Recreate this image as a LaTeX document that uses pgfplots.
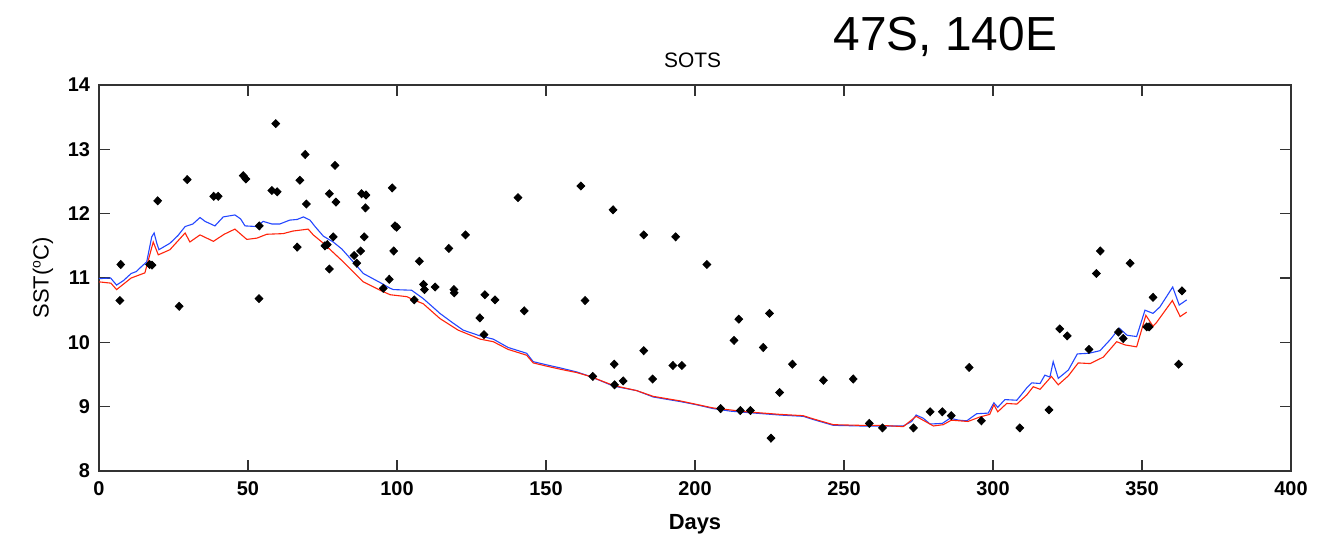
\documentclass[border=0pt]{standalone}
\usepackage{fontspec}
\setmainfont{Liberation Sans}
\usepackage{pgfplots}
\usepackage{pgfplotstable}
\pgfplotsset{compat=1.18}
\definecolor{modblue}{RGB}{35,70,255}
\definecolor{modred}{RGB}{255,35,10}

\pgfplotstableread{
day T
0 10.99
3.9 11.00
5.9 10.89
8.2 10.96
10.8 11.07
12.5 11.10
14.3 11.18
16 11.25
17.7 11.64
18.5 11.70
19.4 11.54
20.1 11.44
23.8 11.54
26.5 11.66
28.9 11.80
31.5 11.84
33.9 11.94
35.6 11.88
38.9 11.81
41.7 11.95
45.6 11.98
47.5 11.92
49 11.81
52.9 11.80
55.1 11.88
58.0 11.84
60.7 11.84
64 11.90
66.5 11.91
68.6 11.95
70.8 11.90
72.5 11.80
75.3 11.65
78.6 11.56
81.5 11.45
84.2 11.31
88.7 11.07
94.3 10.93
97.7 10.84
98.8 10.82
104.9 10.81
108.8 10.68
111.5 10.57
114.4 10.45
118.5 10.31
122.2 10.19
127.9 10.10
132.3 10.05
137.3 9.92
143.5 9.83
145.7 9.70
150.2 9.65
155.0 9.60
160.3 9.54
164.8 9.47
168.5 9.40
172.6 9.32
180.4 9.25
186 9.15
195 9.08
200.5 9.03
206.1 8.97
212.0 8.93
217.3 8.91
228.5 8.87
236.3 8.85
239.7 8.80
246.4 8.71
255.4 8.70
262.1 8.70
269.9 8.70
272.7 8.77
274.2 8.87
276.6 8.82
278.9 8.73
283 8.74
285.6 8.82
288.5 8.79
291.2 8.78
294.5 8.89
298.4 8.90
300.3 9.06
301.6 8.99
304 9.11
308 9.10
311.3 9.29
313 9.37
315.8 9.36
317.4 9.49
319.1 9.46
320.2 9.70
321.9 9.44
325.3 9.57
328.3 9.82
332.2 9.83
335.9 9.87
339.3 10.04
342.4 10.22
345 10.11
348.2 10.09
351 10.50
353.7 10.45
356 10.55
360.3 10.86
362.5 10.58
365 10.66
}\bluedata

\pgfplotstableread{
day T
0 10.94
4 10.92
5.9 10.82
10.8 11.00
15.4 11.08
18.2 11.56
19.9 11.36
23.8 11.44
28.9 11.70
30.5 11.56
33.9 11.67
38.4 11.57
42.0 11.68
45.6 11.76
49.6 11.60
53.0 11.62
56.3 11.68
61.8 11.69
65.1 11.73
70.2 11.76
71.9 11.67
75.3 11.54
82 11.25
88.7 10.94
94.3 10.81
97.7 10.74
103.3 10.71
105.6 10.66
108.8 10.60
114.4 10.37
120.5 10.19
127.9 10.05
132.3 10.01
137.3 9.89
143.5 9.80
145.7 9.68
150.2 9.63
155.0 9.58
160.3 9.53
164.8 9.47
172.6 9.33
180.4 9.25
186 9.16
195 9.09
206.1 8.98
217.3 8.92
228.5 8.88
236.3 8.86
239.7 8.81
246.4 8.72
255.4 8.71
262.1 8.71
269.9 8.69
274.2 8.85
280 8.70
283.3 8.72
286 8.79
291.6 8.77
295.6 8.84
298.9 8.88
300.3 9.03
301.6 8.92
304.6 9.05
308 9.04
311.3 9.18
313.5 9.31
315.8 9.27
319.6 9.47
321.9 9.34
325.3 9.48
328.6 9.68
332.6 9.67
337 9.77
341.5 10.01
344.3 9.96
348.2 9.93
351.3 10.42
353.7 10.25
354.9 10.31
360.2 10.65
362.8 10.40
365 10.47
}\reddata

\pgfplotstableread{
day T
7.3 11.21
7.0 10.65
19.7 12.20
17.0 11.21
17.8 11.20
26.9 10.56
29.6 12.53
38.5 12.27
40.0 12.27
48.4 12.59
49.3 12.54
53.8 11.81
53.7 10.68
58.0 12.36
59.8 12.34
59.3 13.40
66.5 11.48
67.4 12.52
69.2 12.92
69.6 12.15
75.8 11.50
76.6 11.52
77.3 12.31
77.3 11.14
78.6 11.64
79.2 12.75
79.5 12.18
85.6 11.35
86.5 11.23
87.8 11.42
88.1 12.31
89.6 12.29
89.4 12.09
89.0 11.64
95.4 10.84
97.4 10.98
98.4 12.40
99.3 11.81
99.9 11.79
98.9 11.42
107.5 11.26
108.9 10.90
109.2 10.82
105.8 10.66
112.8 10.86
117.4 11.46
119.1 10.82
119.2 10.77
123.0 11.67
127.8 10.38
129.5 10.74
129.2 10.12
132.9 10.66
142.7 10.49
140.6 12.25
161.7 12.43
163.1 10.65
172.5 12.06
182.8 11.67
193.5 11.64
204.0 11.21
214.7 10.36
225.0 10.45
165.7 9.47
172.9 9.66
173.0 9.34
175.9 9.40
182.8 9.87
185.8 9.43
192.6 9.64
195.6 9.64
208.6 8.97
213.1 10.03
215.2 8.94
218.6 8.94
222.9 9.92
225.5 8.51
228.4 9.22
232.7 9.66
243.1 9.41
253.1 9.43
258.5 8.74
262.9 8.67
273.3 8.67
278.9 8.92
283.0 8.92
286.0 8.86
292.0 9.61
296.1 8.78
309.0 8.67
318.8 8.95
322.4 10.21
324.9 10.10
332.2 9.89
342.1 10.16
343.7 10.06
351.6 10.24
352.4 10.24
362.3 9.66
336.0 11.42
334.7 11.07
346.0 11.23
353.7 10.70
363.4 10.80
}\obsdata

\begin{document}
\begin{tikzpicture}
\useasboundingbox (-49.5bp,-34bp) rectangle (614.5bp,235.5bp);
\begin{axis}[
  at={(0,0)}, anchor=south west,
  width=596bp, height=193bp, scale only axis,
  xmin=0, xmax=400, ymin=8, ymax=14,
  xtick={0,50,...,400}, ytick={8,9,...,14},
  minor tick num=0,
  tick align=inside,
  major tick length=5.5bp,
  axis line style={black!80, line width=0.7bp},
  every tick/.style={black!80, line width=0.7bp},
  /pgf/number format/assume math mode=true,
  tick label style={font=\bfseries\fontsize{10}{12}\selectfont},
  yticklabel style={xshift=-1bp},
  xticklabel style={yshift=-2bp},
  xlabel={Days},
  ylabel={SST(\raisebox{0.7ex}{\fontsize{7}{8}\selectfont o}C)},
  every axis x label/.style={at={(axis description cs:0.5,-0.137)}, anchor=center, font=\bfseries\fontsize{11}{13}\selectfont},
  every axis y label/.style={at={(axis description cs:-0.047,0.5)}, rotate=90, anchor=center, font=\fontsize{11}{13}\selectfont},
  clip mode=individual,
]
\addplot[modblue, line width=0.55bp] table[x=day,y=T] {\bluedata};
\addplot[modred, line width=0.55bp] table[x=day,y=T] {\reddata};
\addplot[only marks, mark=diamond*, mark size=2.0bp, mark options={xscale=1.3}, black] table[x=day,y=T] {\obsdata};
\node[anchor=center, font=\fontsize{10.5}{12}\selectfont] at (axis description cs:0.498,1.065) {SOTS};
\node[anchor=center, font=\fontsize{24}{28}\selectfont] at (axis description cs:0.71,1.124) {47S, 140E};
\end{axis}
\end{tikzpicture}
\end{document}
